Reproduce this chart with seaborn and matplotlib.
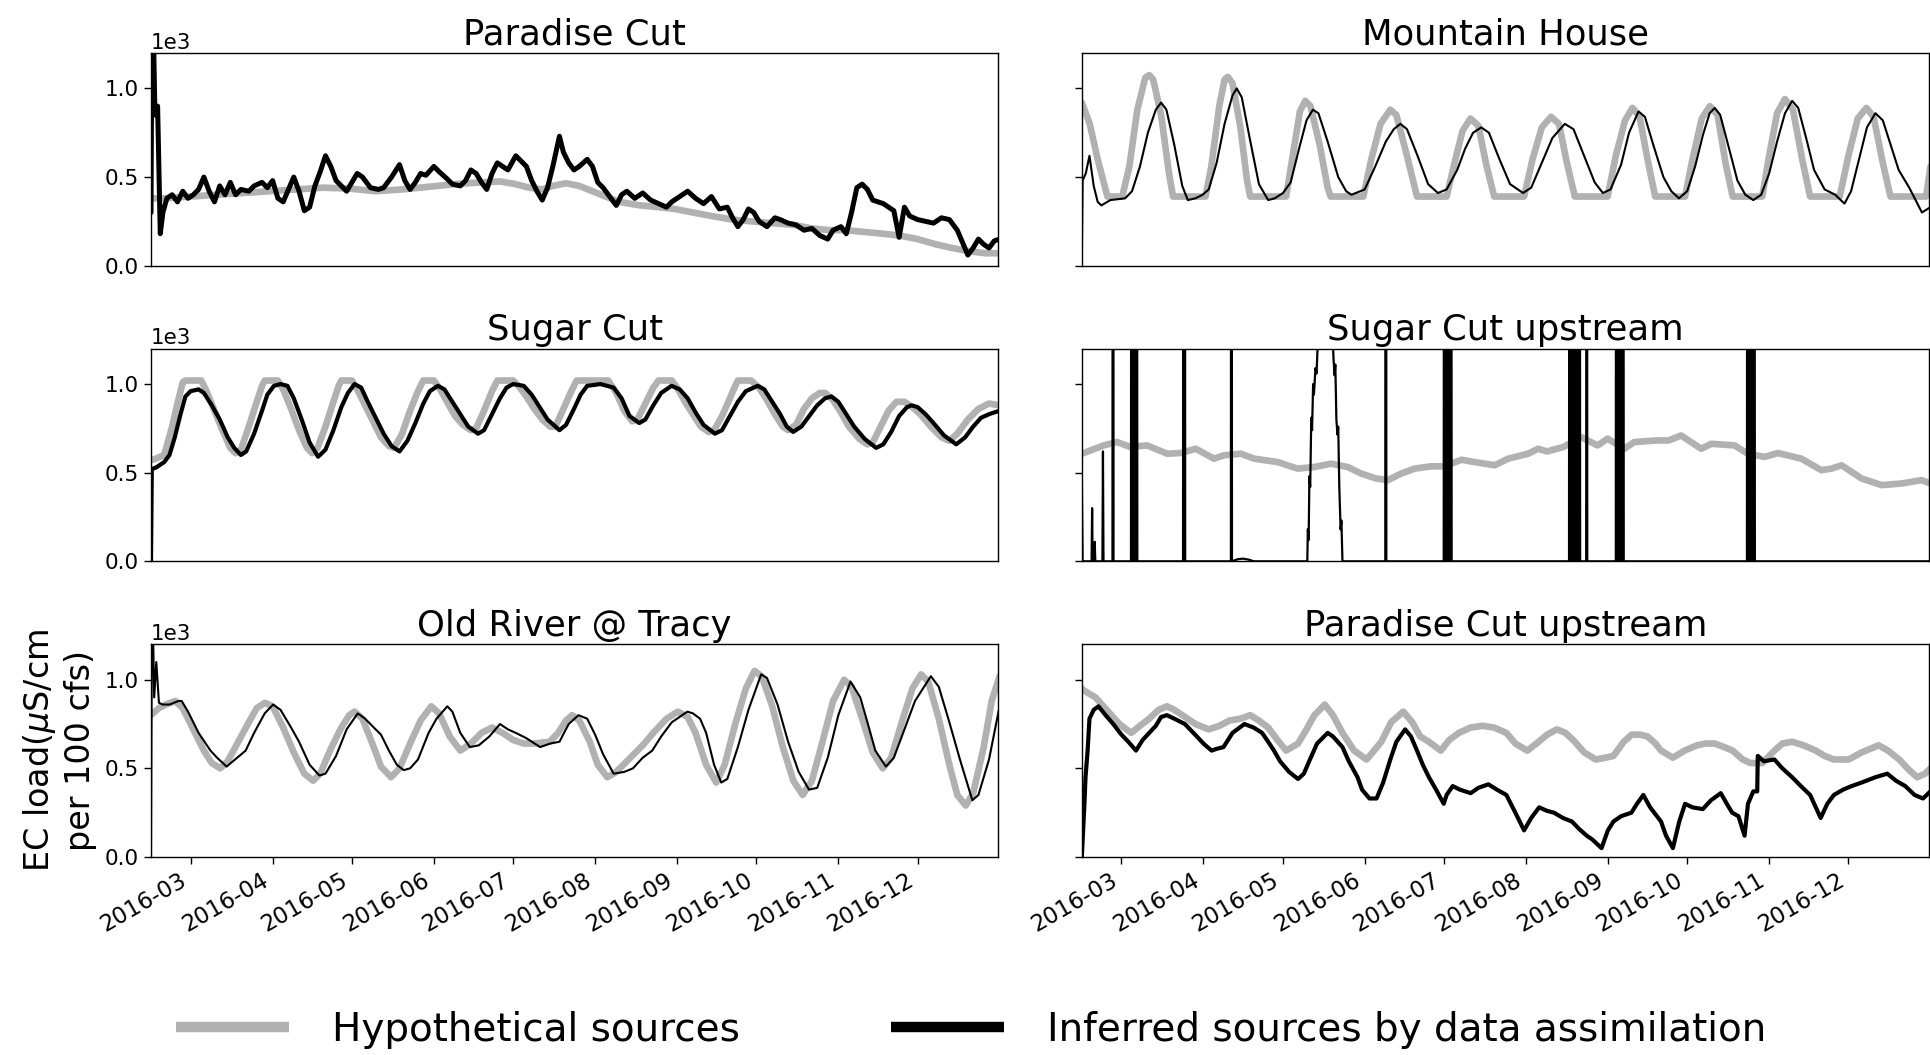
import numpy as np
import pandas as pd
import matplotlib
matplotlib.use("Agg")
import matplotlib.pyplot as plt
import matplotlib.dates as mdates
from matplotlib.lines import Line2D
import seaborn as sns

# ---------------- data (days since 2016-02-15, EC load values) ----------------
START = "2016-02-15"
titles = ["Paradise Cut", "Mountain House", "Sugar Cut", "Sugar Cut upstream",
          "Old River @ Tracy", "Paradise Cut upstream"]
legend_labels = ["Hypothetical sources", "Inferred sources by data assimilation"]

# Paradise Cut
pc_hyp_days = [0, 5, 15, 25, 35, 45, 55, 65, 75, 85, 95, 105, 115, 125, 132, 138, 143, 148, 152, 157,
               162, 167, 172, 177, 185, 192, 198, 205, 212, 220, 227, 235, 243, 250, 257, 263, 270,
               277, 283, 290, 297, 303, 310, 316, 321]
pc_hyp_vals = [380, 380, 390, 400, 410, 420, 430, 440, 435, 420, 430, 445, 460, 470, 475, 460, 440, 430,
               450, 465, 450, 420, 390, 360, 340, 330, 320, 300, 280, 260, 250, 240, 230, 210, 200,
               200, 190, 180, 170, 150, 120, 100, 80, 70, 70]
pc_inf_days = [0, 0.3, 1, 1.5, 2.5, 3.5, 4.5, 6, 8, 10, 12, 14, 16, 18, 20, 22, 24, 26, 28, 30, 32, 34,
               37, 39, 42, 44, 46, 48, 50, 52, 54, 56, 58, 60, 62, 64, 66, 68, 70, 72, 74, 76, 78, 80,
               83, 86, 88, 91, 94, 96, 98, 100, 102, 104, 107, 109, 112, 114, 117, 119, 121, 123, 125,
               127, 129, 131, 133, 135, 138, 140, 142, 144, 146, 148, 150, 152, 154.5, 156, 158, 160,
               162, 165, 167, 169, 171, 173, 176, 178, 180, 183, 186, 189, 192, 195, 197, 200, 203,
               206, 209, 212, 215, 218, 220, 222, 224, 226, 228, 230, 233, 236, 238, 241, 244, 247,
               250, 253, 256, 258, 261, 263, 265, 267, 269, 271, 273, 275, 277, 279, 281, 283, 285,
               287, 290, 293, 296, 299, 302, 305, 307, 309, 311, 313, 315, 317, 319, 321]
pc_inf_vals = [300, 1250, 1250, 850, 900, 180, 300, 380, 400, 360, 420, 380, 400, 430, 500, 420, 360,
               450, 400, 470, 400, 430, 420, 450, 470, 440, 480, 380, 360, 430, 500, 420, 310, 330,
               450, 530, 620, 560, 480, 450, 420, 470, 520, 500, 440, 430, 440, 500, 570, 480, 430,
               470, 520, 510, 560, 530, 490, 460, 450, 480, 540, 520, 470, 430, 520, 580, 560, 540,
               620, 590, 560, 480, 420, 370, 440, 560, 730, 640, 580, 540, 560, 600, 560, 470, 440,
               400, 340, 400, 420, 380, 410, 370, 350, 330, 360, 390, 420, 380, 350, 390, 320, 330,
               270, 220, 260, 320, 300, 250, 220, 270, 260, 240, 230, 200, 210, 170, 150, 200, 220,
               180, 300, 440, 460, 430, 370, 360, 350, 330, 310, 160, 330, 280, 260, 250, 240, 270,
               260, 200, 130, 60, 100, 150, 120, 100, 140, 150]

# Mountain House
mh_hyp_days = [0, 3, 6, 9.7, 15.3, 18, 21, 24, 25.5, 27, 30, 33, 34.5, 46.8, 49, 52, 54, 55.2, 57, 60,
               62.5, 63.7, 77.3, 80, 82.5, 84.5, 86.5, 90, 93, 94.1, 106.5, 109.5, 113, 116.7, 119,
               123, 126.8, 138, 141, 144, 147, 150, 153, 156, 167.3, 170.5, 174, 177.5, 180.5, 183.5,
               186.5, 198.9, 202, 205.5, 208.3, 211, 214, 216.9, 228.2, 231, 234.5, 237.6, 240.5,
               243.5, 246.2, 257.4, 260, 263, 266, 269, 272.5, 275.5, 286.7, 290, 293.5, 296.8, 299.5,
               303, 305.9, 319.4, 321]
mh_hyp_vals = [920, 800, 600, 390, 390, 560, 880, 1060, 1075, 1050, 850, 520, 390, 390, 560, 900, 1050,
               1065, 1030, 780, 480, 390, 390, 640, 870, 930, 900, 680, 440, 390, 390, 600, 800, 880,
               850, 620, 390, 390, 580, 760, 830, 790, 570, 390, 390, 600, 780, 840, 800, 580, 390,
               390, 620, 820, 890, 840, 600, 390, 390, 600, 830, 900, 850, 580, 390, 390, 620, 860,
               940, 880, 600, 390, 390, 620, 830, 890, 840, 580, 390, 390, 560]
mh_inf_days = [0, 0.3, 1.5, 2.9, 4.5, 6, 7.4, 10.8, 16.4, 19, 22, 25, 28, 30, 32, 35, 38, 40.1, 43, 45.7,
               48, 51, 54, 57, 58.6, 60.5, 63.5, 67, 70.5, 73, 76.1, 79, 82, 85, 87.4, 89.5, 93, 97,
               100, 102, 107, 111, 115, 118, 120.5, 123, 127, 131, 134.7, 138, 142, 145, 148, 151.1,
               154, 158, 162, 166.9, 170, 174, 178, 182.7, 186, 190, 194, 197.1, 200, 204, 207, 210.6,
               213, 216, 220, 223, 225.9, 229, 232, 235, 237.5, 239.4, 241.5, 244.5, 248, 251, 254,
               257, 260, 263, 266, 268.7, 271, 274, 277, 281, 285, 288.5, 291, 294, 297, 300.2, 303,
               306, 309, 313, 317.8, 321]
mh_inf_vals = [0, 480, 520, 620, 450, 360, 340, 370, 380, 420, 560, 750, 880, 920, 880, 680, 450, 370,
               380, 400, 430, 580, 800, 960, 1000, 950, 720, 460, 370, 380, 410, 470, 650, 820, 880,
               860, 700, 500, 420, 400, 430, 560, 700, 770, 800, 770, 620, 460, 410, 430, 540, 660,
               750, 780, 750, 600, 460, 410, 440, 580, 720, 800, 770, 620, 470, 410, 430, 570, 750,
               870, 840, 690, 500, 420, 380, 420, 560, 740, 860, 890, 850, 680, 480, 400, 370, 400,
               520, 700, 860, 930, 890, 720, 540, 430, 400, 350, 420, 600, 780, 860, 820, 680, 540,
               440, 300, 330]

# Sugar Cut
sc_hyp_days = [0, 2, 5, 8, 10, 12, 13, 19, 21, 24, 27, 30, 32, 34, 37, 40, 42, 43, 48, 50, 53, 56, 59,
               61, 63, 66, 69, 71, 72, 76, 78, 81, 84, 87, 90, 92, 95, 98, 101, 103, 107, 109, 112, 115,
               118, 121, 123, 126, 129, 131, 137, 139, 142, 145, 148, 151, 153, 156, 159, 161, 173,
               176, 179, 182, 184, 187, 190, 192, 197, 199, 202, 205, 208, 211, 213, 216, 219, 221,
               222, 227, 230, 233, 236, 239, 241, 244, 247, 250, 253, 255, 258, 261, 264, 268, 271,
               273, 276, 279, 282, 285, 288, 291, 295, 299, 302, 305, 309, 313, 317, 321]
sc_hyp_vals = [570, 580, 600, 760, 890, 1010, 1020, 1020, 960, 850, 740, 640, 610, 630, 760, 900, 990,
               1020, 1020, 970, 860, 740, 640, 610, 640, 760, 900, 990, 1020, 1020, 970, 880, 790, 700,
               650, 640, 720, 850, 960, 1020, 1020, 980, 900, 820, 770, 740, 750, 850, 960, 1020, 1020,
               990, 930, 860, 800, 760, 760, 860, 960, 1020, 1020, 950, 850, 790, 800, 890, 980, 1020,
               1020, 980, 900, 830, 760, 730, 740, 820, 920, 990, 1020, 1020, 980, 910, 830, 760, 740,
               770, 860, 920, 950, 950, 910, 840, 760, 690, 660, 670, 760, 850, 900, 900, 870, 830,
               760, 700, 680, 720, 800, 860, 890, 880]
sc_inf_days = [0, 0.3, 2, 5, 7, 9, 11, 13, 15, 18, 20, 23, 26, 29, 31.5, 34, 36, 39, 42, 44, 46.5, 49,
               51.6, 54, 57, 60, 63.2, 66, 69, 72, 74.5, 77, 79.5, 82, 85, 88, 91, 94, 97, 100, 103,
               105.5, 108.5, 111, 114, 117, 120, 123.7, 126, 129, 132, 134.5, 137, 141, 144, 147, 150,
               154.5, 157, 160, 162.5, 165, 170, 175, 178, 181, 184.7, 187, 190, 193, 196.9, 200, 203,
               206, 209, 213.3, 216, 219, 222, 225, 229.5, 232, 235, 238, 240.5, 242.9, 246, 249, 252,
               255, 257.4, 260, 263, 266, 270, 274.3, 277, 280, 283, 286, 287.7, 290, 293, 296, 300,
               304.6, 308, 311, 314, 317, 321]
sc_inf_vals = [0, 520, 530, 560, 600, 700, 820, 930, 960, 970, 950, 880, 800, 700, 640, 600, 620, 720,
               850, 940, 990, 1000, 990, 920, 800, 670, 590, 630, 740, 870, 950, 1000, 980, 900, 810,
               720, 650, 620, 680, 780, 890, 960, 990, 970, 900, 830, 760, 720, 740, 830, 920, 980,
               1000, 990, 940, 870, 800, 740, 770, 860, 940, 990, 1000, 980, 920, 820, 780, 800, 880,
               950, 990, 970, 920, 840, 770, 720, 740, 820, 900, 960, 990, 970, 900, 830, 760, 730,
               760, 820, 880, 920, 930, 900, 830, 760, 690, 640, 660, 730, 820, 870, 880, 870, 830,
               780, 710, 660, 700, 760, 810, 830, 850]

# Sugar Cut upstream
scu_hyp_days = [0, 8.3, 13.3, 18.4, 24.7, 32.3, 37.4, 43.1, 50, 53.8, 60.2, 65.2, 74.1, 81.6, 87.9,
                94.3, 100.6, 105.7, 111.4, 115.8, 120.8, 125.9, 132.2, 137.3, 143.6, 148.6, 156.2,
                161.3, 168.8, 172.6, 176, 182.2, 188.8, 195.1, 198.9, 205.2, 209, 217.8, 222, 226.7,
                234.3, 238.1, 246.9, 252, 258.3, 263.3, 272.2, 279.8, 283.6, 287.4, 295, 302.5, 310.1,
                317.7, 321]
scu_hyp_vals = [607, 654, 673, 645, 654, 607, 611, 635, 579, 598, 607, 579, 560, 523, 532, 551, 532,
                495, 467, 458, 495, 523, 536, 536, 573, 560, 542, 579, 607, 635, 620, 645, 701, 654,
                692, 635, 673, 682, 682, 710, 635, 663, 654, 607, 589, 611, 579, 514, 523, 542, 467,
                430, 439, 458, 439]
scu_inf_days = [0, 0.3, 3.7, 3.9, 4.1, 4.7, 4.9, 5.1, 7.8, 8.0, 8.2, 11.6, 11.8, 12.0,
                18.6, 18.9, 19.2, 19.5, 19.8, 20.1, 20.4, 20.7, 21.0,
                38.3, 38.5, 38.7, 38.9, 39.1,
                56.4, 56.6, 56.8, 59, 61, 63, 65.1,
                85.3, 85.5, 85.8, 86.1, 86.4, 86.8, 87.1, 87.5, 87.8, 88.4, 88.8, 89.3, 90.1,
                94.8, 95.2, 95.6, 95.9, 96.3, 96.7, 97.0, 97.4, 97.9, 98.2, 98.6,
                114.8, 115.0, 115.2,
                136.9, 137.2, 137.5, 137.8, 138.1, 138.4, 138.7, 139.0, 139.3, 139.6, 139.9,
                184.3, 184.6, 184.9, 185.2, 185.5, 185.8, 186.1, 186.4, 186.7, 187.0, 187.3, 187.6,
                187.9, 188.2, 188.5,
                190.8, 191.0, 191.2,
                202.0, 202.3, 202.6, 202.9, 203.2, 203.5, 203.8, 204.1, 204.4, 204.7, 205.0,
                251.6, 251.9, 252.2, 252.5, 252.8, 253.1, 253.4, 253.7, 254.0, 254.3, 254.6,
                321]
scu_inf_vals = [490, 0, 0, 300, 0, 0, 110, 0, 0, 620, 0, 0, 9000, 0,
                0, 9000, 0, 9000, 0, 9000, 0, 9000, 0,
                0, 9000, 0, 9000, 0,
                0, 9000, 0, 12, 15, 10, 0,
                0, 180, 120, 480, 420, 810, 740, 1000, 940, 1090, 1060, 1250, 1300,
                1300, 1150, 1050, 1110, 800, 715, 760, 420, 180, 230, 0,
                0, 9000, 0,
                0, 9000, 0, 9000, 0, 9000, 0, 9000, 0, 9000, 0,
                0, 9000, 0, 9000, 0, 9000, 0, 9000, 0, 9000, 0, 9000,
                0, 9000, 0,
                0, 9000, 0,
                0, 9000, 0, 9000, 0, 9000, 0, 9000, 0, 9000, 0,
                0, 9000, 0, 9000, 0, 9000, 0, 9000, 0, 9000, 0,
                0]

# Old River @ Tracy
ort_hyp_days = [0, 0.7, 3, 5.6, 9.2, 12, 16, 20, 23, 26.2, 29, 33, 37, 40, 43.1, 46, 50, 54, 58, 61.3,
                64, 68, 72, 75, 77, 80, 84, 87, 90.8, 94, 98, 102, 106, 109, 113, 117, 121, 125, 129,
                133, 137, 141, 145, 150.8, 154, 157, 159.3, 162, 166, 169, 172.6, 176, 180, 186, 190,
                195, 199.3, 203, 206, 210, 213.8, 217, 221, 225, 228.3, 231, 235, 239, 243, 246.5,
                250, 254, 258, 262.2, 265, 269, 273, 276.8, 280, 284, 288, 291.3, 294, 298, 302, 305,
                308.2, 311, 315, 318, 321]
ort_hyp_vals = [800, 810, 840, 860, 880, 840, 720, 600, 530, 500, 540, 650, 760, 840, 870, 850, 730,
                590, 470, 430, 470, 610, 730, 800, 820, 780, 630, 510, 450, 500, 640, 770, 850, 810,
                680, 600, 640, 700, 730, 700, 660, 640, 640, 650, 700, 770, 800, 770, 650, 520, 450,
                480, 540, 630, 700, 780, 820, 790, 700, 520, 420, 520, 750, 950, 1050, 1020, 850, 620,
                430, 350, 430, 650, 880, 1000, 960, 780, 590, 500, 560, 760, 950, 1030, 990, 780, 520,
                350, 290, 360, 620, 880, 1020]
ort_inf_days = [0, 0.3, 0.8, 1.2, 2, 3, 4.4, 7, 10.4, 11.6, 14, 18, 22.5, 25, 28.6, 31, 35.8, 39, 43,
                46.2, 49, 53, 56, 60, 63.7, 66, 70, 74, 78.2, 81, 84.3, 87, 90, 93, 95.6, 98, 101, 105,
                108, 112.1, 114, 117, 120.6, 124, 128, 132, 135, 138, 142, 147.2, 151, 154.5, 158,
                161.7, 165, 168, 171, 175, 179, 182.3, 186, 189.6, 193, 197, 202.9, 205, 207.7, 210,
                213, 215.7, 218, 222, 226, 230.8, 233, 237, 241, 245, 248.9, 252, 256, 260, 264.6,
                268.3, 271, 274, 278, 281, 285, 289, 295, 298, 302, 306, 310.7, 313, 317, 321]
ort_inf_vals = [0, 1250, 1250, 900, 1100, 870, 860, 860, 880, 880, 820, 700, 600, 560, 510, 540, 600,
                700, 810, 860, 830, 730, 650, 520, 460, 470, 570, 720, 810, 780, 730, 690, 600, 520,
                490, 500, 550, 700, 780, 850, 820, 700, 620, 630, 680, 750, 720, 700, 670, 620, 640,
                650, 750, 800, 780, 690, 580, 470, 480, 500, 560, 600, 680, 760, 820, 810, 780, 700,
                520, 420, 440, 620, 830, 1030, 1010, 860, 650, 480, 380, 390, 560, 800, 990, 900, 760,
                600, 510, 560, 720, 880, 1020, 960, 760, 550, 320, 350, 550, 850]

# Paradise Cut upstream
pcu_hyp_days = [0, 0.7, 5.2, 10, 14.2, 18.7, 22, 25.5, 29, 32.2, 35, 39, 43, 48, 52, 55.9, 60, 63.7, 67,
                70.5, 74, 77.3, 81.8, 85, 88, 91.9, 95, 98.6, 103, 107.7, 110, 113.3, 117, 121.6, 125,
                128, 131.3, 135.8, 139, 142.6, 147, 151.6, 156, 160.6, 164, 168.5, 172, 176, 179.7,
                183, 186.5, 190, 194.4, 198, 201.1, 205, 208, 211.3, 214, 217, 219.1, 223.6, 228,
                232.7, 236, 239.4, 243, 246.2, 250, 252.9, 257.4, 262, 265, 268.7, 273, 277.7, 281,
                284.5, 290.1, 295, 301.4, 305, 309.2, 313, 316, 319, 321]
pcu_hyp_vals = [950, 940, 900, 820, 750, 700, 740, 780, 830, 850, 830, 790, 750, 720, 740, 770, 780,
                800, 770, 730, 660, 600, 640, 720, 800, 860, 800, 700, 600, 550, 590, 650, 760, 820,
                760, 680, 650, 600, 660, 700, 730, 740, 730, 700, 640, 600, 640, 690, 720, 700, 650,
                590, 550, 560, 570, 650, 690, 690, 680, 640, 600, 560, 600, 630, 640, 640, 620, 600,
                550, 530, 530, 600, 640, 650, 630, 600, 570, 550, 550, 590, 630, 600, 550, 490, 450,
                470, 500]
pcu_inf_days = [0, 1, 1.4, 2.2, 2.9, 4.5, 6.3, 9, 11.9, 15, 17.6, 20.5, 23, 25.5, 28, 30, 32.2, 35, 39,
                43.5, 46, 49.1, 51, 53.6, 57, 61.5, 65, 68.2, 70.5, 72.7, 75, 78.4, 81.8, 84, 86.3, 89,
                93, 95, 98.6, 101, 104.3, 106, 108.8, 111.5, 114, 116.7, 119, 122.3, 124.5, 126.8,
                129, 131.3, 134, 136.9, 138, 140.3, 143, 147.1, 150, 153.8, 157, 160.6, 164, 167.3,
                170, 173, 176, 178.6, 182, 185.4, 188, 191, 193, 196.6, 199, 201.1, 204, 207.9, 210,
                212.4, 215, 219.1, 221, 223.6, 226, 228.2, 231, 234.9, 238, 241.7, 244, 246, 248.4,
                250.7, 252, 254, 255.5, 255.7, 258, 262, 265, 268.7, 272, 275.5, 279.5, 282, 284.5,
                288, 291.2, 295, 300.2, 304.7, 308, 311.5, 315, 318.2, 321]
pcu_inf_vals = [0, 300, 450, 600, 780, 830, 850, 800, 750, 690, 650, 600, 660, 700, 740, 790, 800, 780,
                750, 680, 640, 600, 610, 620, 700, 750, 730, 700, 650, 600, 540, 480, 440, 470, 550,
                640, 700, 680, 620, 540, 450, 380, 330, 330, 420, 550, 650, 720, 680, 600, 520, 450,
                380, 300, 350, 400, 380, 360, 390, 410, 380, 350, 250, 150, 220, 280, 260, 250, 220,
                200, 160, 120, 100, 50, 150, 200, 230, 250, 300, 350, 280, 200, 120, 50, 200, 300,
                280, 270, 320, 360, 300, 250, 230, 120, 300, 370, 370, 570, 540, 550, 500, 450, 400,
                350, 220, 300, 350, 380, 400, 420, 450, 470, 430, 400, 350, 330, 370]

# ---------------- styling ----------------
GRAY = "#b1b1b1"
BLACK = "#000000"

plt.rcdefaults()
sns.set_style("ticks", {"axes.edgecolor": "black", "xtick.color": "black", "ytick.color": "black",
                        "text.color": "black", "axes.labelcolor": "black"})
plt.rcParams["font.family"] = ["DejaVu Sans"]

fig, axes = plt.subplots(3, 2, figsize=(19.31, 10.55), dpi=100, sharex=True, sharey=True)
fig.subplots_adjust(left=0.0782, right=0.999, top=0.9498, bottom=0.1877, wspace=0.0986, hspace=0.39)

base = pd.Timestamp(START)


def draw(ax, days, vals, color, lw):
    df = pd.DataFrame({"date": base + pd.to_timedelta(np.asarray(days, float), unit="D"),
                       "val": np.asarray(vals, float)})
    sns.lineplot(data=df, x="date", y="val", ax=ax, color=color, linewidth=lw,
                 estimator=None, sort=False, legend=False)


series = [
    (pc_hyp_days, pc_hyp_vals, pc_inf_days, pc_inf_vals, 3.6),
    (mh_hyp_days, mh_hyp_vals, mh_inf_days, mh_inf_vals, 1.5),
    (sc_hyp_days, sc_hyp_vals, sc_inf_days, sc_inf_vals, 3.0),
    (scu_hyp_days, scu_hyp_vals, scu_inf_days, scu_inf_vals, 1.6),
    (ort_hyp_days, ort_hyp_vals, ort_inf_days, ort_inf_vals, 1.5),
    (pcu_hyp_days, pcu_hyp_vals, pcu_inf_days, pcu_inf_vals, 3.0),
]

for i, ax in enumerate(axes.flat):
    hd, hv, idays, iv, lw = series[i]
    draw(ax, hd, hv, GRAY, 4.8)
    draw(ax, idays, iv, BLACK, lw)
    ax.set_title(titles[i], fontsize=25.5)
    ax.set_xlabel("")
    ax.set_ylabel("")
    for s in ax.spines.values():
        s.set_visible(True)
        s.set_linewidth(1.0)

ax0 = axes[0, 0]
ax0.set_ylim(0, 1200)
ax0.set_yticks([0, 500, 1000])
ax0.set_xlim(pd.Timestamp("2016-02-15"), pd.Timestamp("2016-12-31 12:00"))
ax0.xaxis.set_major_locator(mdates.MonthLocator())
ax0.xaxis.set_major_formatter(mdates.DateFormatter("%Y-%m"))

for r in range(3):
    for c in range(2):
        ax = axes[r, c]
        ax.tick_params(axis="y", labelsize=15.5, length=5, width=1)
        ax.tick_params(axis="x", labelsize=16.5, length=5, width=1)
        ax.ticklabel_format(axis="y", style="sci", scilimits=(0, 0))
        ax.yaxis.get_offset_text().set_fontsize(15.5)
        if c == 1:
            ax.tick_params(axis="y", labelleft=False)
            ax.yaxis.get_offset_text().set_visible(False)
        if r < 2:
            ax.tick_params(axis="x", bottom=False, labelbottom=False)
        else:
            ax.tick_params(axis="x", labelbottom=True)
            plt.setp(ax.get_xticklabels(), rotation=30, ha="right")

axes[2, 0].set_ylabel("EC load($\\mu$S/cm\nper 100 cfs)", fontsize=24, labelpad=6)

handles = [Line2D([0], [0], color=GRAY, lw=7.5, solid_capstyle="butt"),
           Line2D([0], [0], color=BLACK, lw=7.5, solid_capstyle="butt")]
fig.legend(handles, legend_labels, loc="center", bbox_to_anchor=(0.503, 0.024), ncol=2,
           frameon=False, fontsize=28, handlelength=2.9, handletextpad=1.1, columnspacing=3.9)

fig.savefig("out.png", dpi=100)
